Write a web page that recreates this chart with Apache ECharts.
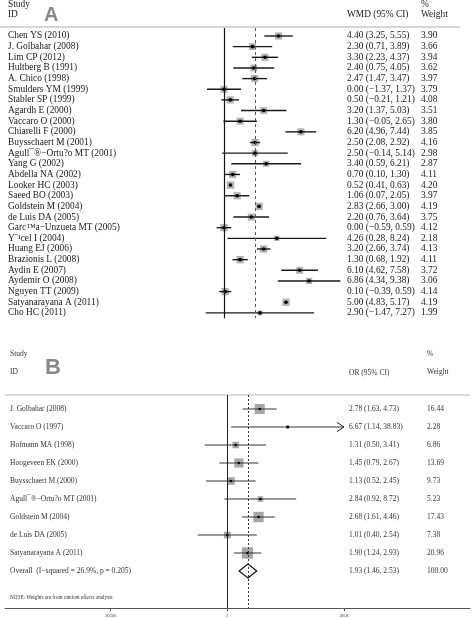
<!DOCTYPE html>
<html>
<head>
<meta charset="utf-8">
<script src="https://cdn.jsdelivr.net/npm/echarts@6/dist/echarts.min.js"></script>
<style>html,body{margin:0;padding:0;background:#fff}#c{width:472px;height:619px}</style>
</head>
<body>
<div id="c"></div>
<script>
// ---------- Panel A data (WMD) ----------
const namesA = ['Chen YS (2010)', 'J. Golbahar (2008)', 'Lim CP (2012)', 'Hultberg B (1991)', 'A. Chico (1998)',
  'Smulders YM (1999)', 'Stabler SP (1999)', 'Agardh E (2000)', 'Vaccaro O (2000)', 'Chiarelli F (2000)',
  'Buysschaert M (2001)', 'Agull¯®−Ortu?o MT (2001)', 'Yang G (2002)', 'Abdella NA (2002)', 'Looker HC (2003)',
  'Saeed BO (2003)', 'Goldstein M (2004)', 'de Luis DA (2005)', 'Garc™a−Unzueta MT (2005)', 'Y¨¹cel I (2004)',
  'Huang EJ (2006)', 'Brazionis L (2008)', 'Aydin E (2007)', 'Aydemir O (2008)', 'Nguyen TT (2009)',
  'Satyanarayana A (2011)', 'Cho HC (2011)'];
const wmdA  = [4.40, 2.30, 3.30, 2.40, 2.47, 0.00, 0.50, 3.20, 1.30, 6.20, 2.50, 2.50, 3.40, 0.70, 0.52, 1.06, 2.83, 2.20, 0.00, 4.26, 3.20, 1.30, 6.10, 6.86, 0.10, 5.00, 2.90];
const lowA  = [3.25, 0.71, 2.23, 0.75, 1.47, -1.37, -0.21, 1.37, -0.05, 4.96, 2.08, -0.14, 0.59, 0.10, 0.41, 0.07, 2.66, 0.76, -0.59, 0.28, 2.66, 0.68, 4.62, 4.34, -0.39, 4.83, -1.47];
const highA = [5.55, 3.89, 4.37, 4.05, 3.47, 1.37, 1.21, 5.03, 2.65, 7.44, 2.92, 5.14, 6.21, 1.30, 0.63, 2.05, 3.00, 3.64, 0.59, 8.24, 3.74, 1.92, 7.58, 9.38, 0.59, 5.17, 7.27];
const weightA = [3.90, 3.66, 3.94, 3.62, 3.97, 3.79, 4.08, 3.51, 3.80, 3.85, 4.16, 2.98, 2.87, 4.11, 4.20, 3.97, 4.19, 3.75, 4.12, 2.18, 4.13, 4.11, 3.72, 3.06, 4.14, 4.19, 1.99];
const overallA = 2.5;

// ---------- Panel B data (OR) ----------
const namesB = ['J. Golbahar (2008)', 'Vaccaro O (1997)', 'Hofmann MA (1998)', 'Hoogeveen EK (2000)', 'Buysschaert M (2000)',
  'Agull¯®−Ortu?o MT (2001)', 'Goldstein M (2004)', 'de Luis DA (2005)', 'Satyanarayana A (2011)'];
const orB   = [2.78, 6.67, 1.31, 1.45, 1.13, 2.84, 2.68, 1.01, 1.90];
const lowB  = [1.63, 1.14, 0.50, 0.79, 0.52, 0.92, 1.61, 0.40, 1.24];
const highB = [4.73, 38.83, 3.41, 2.67, 2.45, 8.72, 4.46, 2.54, 2.93];
const weightB = [16.44, 2.28, 6.86, 13.69, 9.73, 5.23, 17.43, 7.38, 20.96];
const overallLabelB = 'Overall  (I−squared = 26.9%, p = 0.205)';
const overallB = 1.93, overallLowB = 1.46, overallHighB = 2.53, overallWeightB = 100.00;
const tickValuesB = [0.0258, 1, 38.8];
const tickLabelsB = ['.0258', '1', '38.8'];

// ---------- helpers ----------
const fmt = v => v.toFixed(2).replace('-', '−');
const ciText = (e, l, h) => `${fmt(e)} (${fmt(l)}, ${fmt(h)})`;
const ciA = wmdA.map((v, i) => ciText(v, lowA[i], highA[i]));
const wA = weightA.map(w => w.toFixed(2));
const allNamesB = namesB.concat([overallLabelB]);
const ciB = orB.map((v, i) => ciText(v, lowB[i], highB[i])).concat([ciText(overallB, overallLowB, overallHighB)]);
const wB = weightB.map(w => w.toFixed(2)).concat([overallWeightB.toFixed(2)]);

const SERIF = "'Liberation Serif', 'DejaVu Serif', serif";
const SANS = "'Liberation Sans', Arial, sans-serif";
const FA = 9.4;

// layout constants
const rowA = 10.65, firstRowA = 36;
const rowB = 18, firstRowB = 409;
const logBaseB = 38.8;
const pxPerLogB = 117, oneXB = 227;
const bLeft = 5, bRight = 470;
const xMinB = Math.pow(logBaseB, (bLeft - oneXB) / pxPerLogB);
const xMaxB = Math.pow(logBaseB, (bRight - oneXB) / pxPerLogB);
const clipB = tickValuesB[tickValuesB.length - 1];

const grids = [], xAxes = [], yAxes = [];
function textColumn(left, top, height, labels, fontSize, color) {
  const gi = grids.length;
  grids.push({ left: left, top: top, width: 10, height: height });
  xAxes.push({ gridIndex: gi, type: 'value', show: false });
  yAxes.push({ gridIndex: gi, type: 'category', data: labels, inverse: true,
    axisLine: { show: false }, axisTick: { show: false }, splitLine: { show: false },
    axisLabel: { inside: true, interval: 0, margin: 0, fontSize: fontSize, color: color, fontFamily: SERIF } });
}

// grid 0: panel A plot
const aMin = -4, aMax = 10, aPx = 12.4, zeroXA = 224;
grids.push({ left: zeroXA + aMin * aPx, width: (aMax - aMin) * aPx, top: firstRowA - 0.75 * rowA, height: 27.25 * rowA });
xAxes.push({ gridIndex: 0, type: 'value', min: aMin, max: aMax, show: false });
yAxes.push({ gridIndex: 0, type: 'value', min: -0.75, max: 26.5, inverse: true, show: false });

// grid 1: panel B plot
grids.push({ left: bLeft, width: bRight - bLeft, top: 395, height: 213 });
xAxes.push({ gridIndex: 1, type: 'log', logBase: logBaseB, min: xMinB, max: xMaxB, position: 'bottom',
  axisLine: { show: true, onZero: false, lineStyle: { color: '#555', width: 1 } },
  axisTick: { show: true, customValues: tickValuesB, length: 3, lineStyle: { color: '#555' } },
  splitLine: { show: false },
  axisLabel: { customValues: tickValuesB, fontSize: 5, color: '#333', fontFamily: SERIF, margin: 5,
    formatter: v => { const i = tickValuesB.findIndex(t => Math.abs(Math.log(v / t)) < 1e-4); return i >= 0 ? tickLabelsB[i] : ''; } } });
yAxes.push({ gridIndex: 1, type: 'value', min: (395 - firstRowB) / rowB, max: (608 - firstRowB) / rowB, inverse: true, show: false });

// text columns
const topTA = firstRowA - rowA / 2, hTA = rowA * namesA.length;
textColumn(8, topTA, hTA, namesA, FA, '#1a1a1a');
textColumn(347, topTA, hTA, ciA, FA, '#1a1a1a');
textColumn(421, topTA, hTA, wA, FA, '#1a1a1a');
const topTB = firstRowB - rowB / 2, hTB = rowB * allNamesB.length;
textColumn(10, topTB, hTB, allNamesB, 7.5, '#333');
textColumn(349, topTB, hTB, ciB, 7.5, '#333');
textColumn(427, topTB, hTB, wB, 7.5, '#333');

const dataA = wmdA.map((v, i) => [v, i, lowA[i], highA[i], weightA[i]]);
const dataB = orB.map((v, i) => [v, i, lowB[i], highB[i], weightB[i]]);
const dataOverallB = [[overallB, namesB.length, overallLowB, overallHighB, overallWeightB]];

const option = {
  animation: false,
  backgroundColor: '#fff',
  grid: grids, xAxis: xAxes, yAxis: yAxes,
  graphic: [
    { type: 'line', shape: { x1: 0, y1: 27, x2: 460, y2: 27 }, style: { stroke: '#c9c9c9', lineWidth: 1.5 } },
    { type: 'line', shape: { x1: 5, y1: 395, x2: 470, y2: 395 }, style: { stroke: '#cfcfcf', lineWidth: 1.5 } },
    { type: 'text', x: 8, y: 5, style: { text: 'Study', fontSize: FA, fontFamily: SERIF, fill: '#1a1a1a', verticalAlign: 'middle' } },
    { type: 'text', x: 8, y: 15, style: { text: 'ID', fontSize: FA, fontFamily: SERIF, fill: '#1a1a1a', verticalAlign: 'middle' } },
    { type: 'text', x: 44, y: 15, style: { text: 'A', fontSize: 20, fontWeight: 'bold', fontFamily: SANS, fill: '#8a8a8a', verticalAlign: 'middle' } },
    { type: 'text', x: 347, y: 15, style: { text: 'WMD (95% CI)', fontSize: FA, fontFamily: SERIF, fill: '#1a1a1a', verticalAlign: 'middle' } },
    { type: 'text', x: 421, y: 5, style: { text: '%', fontSize: FA, fontFamily: SERIF, fill: '#1a1a1a', verticalAlign: 'middle' } },
    { type: 'text', x: 421, y: 15, style: { text: 'Weight', fontSize: FA, fontFamily: SERIF, fill: '#1a1a1a', verticalAlign: 'middle' } },
    { type: 'text', x: 10, y: 354, style: { text: 'Study', fontSize: 7.5, fontFamily: SERIF, fill: '#333', verticalAlign: 'middle' } },
    { type: 'text', x: 10, y: 372, style: { text: 'ID', fontSize: 7.5, fontFamily: SERIF, fill: '#333', verticalAlign: 'middle' } },
    { type: 'text', x: 45, y: 368, style: { text: 'B', fontSize: 22, fontWeight: 'bold', fontFamily: SANS, fill: '#8a8a8a', verticalAlign: 'middle' } },
    { type: 'text', x: 349, y: 373, style: { text: 'OR (95% CI)', fontSize: 7.5, fontFamily: SERIF, fill: '#333', verticalAlign: 'middle' } },
    { type: 'text', x: 427, y: 354, style: { text: '%', fontSize: 7.5, fontFamily: SERIF, fill: '#333', verticalAlign: 'middle' } },
    { type: 'text', x: 427, y: 372, style: { text: 'Weight', fontSize: 7.5, fontFamily: SERIF, fill: '#333', verticalAlign: 'middle' } },
    { type: 'text', x: 10, y: 598, style: { text: 'NOTE: Weights are from random effects analysis', fontSize: 5.2, fontFamily: SERIF, fill: '#333', verticalAlign: 'middle' } }
  ],
  series: [
    {
      type: 'custom', xAxisIndex: 0, yAxisIndex: 0, data: dataA,
      encode: { x: [0, 2, 3], y: 1 },
      renderItem: (params, api) => {
        const e = api.value(0), i = api.value(1), l = api.value(2), h = api.value(3), w = api.value(4);
        const pL = api.coord([l, i]), pH = api.coord([h, i]), pC = api.coord([e, i]);
        const s = 3.6 * Math.sqrt(w);
        return { type: 'group', children: [
          { type: 'rect', shape: { x: pC[0] - s / 2, y: pC[1] - s / 2, width: s, height: s }, style: { fill: '#b3b3b3' } },
          { type: 'line', shape: { x1: pL[0], y1: pL[1], x2: pH[0], y2: pH[1] }, style: { stroke: '#1a1a1a', lineWidth: 1.4 } },
          { type: 'circle', shape: { cx: pC[0], cy: pC[1], r: 1.8 }, style: { fill: '#000' } }
        ] };
      },
      markLine: {
        silent: true, symbol: 'none', label: { show: false }, animation: false,
        data: [
          { xAxis: 0, lineStyle: { color: '#111', width: 1.2, type: 'solid' } },
          { xAxis: overallA, lineStyle: { color: '#a33a3a', width: 1, type: [3, 3] } }
        ]
      }
    },
    {
      type: 'custom', xAxisIndex: 1, yAxisIndex: 1, data: dataB,
      encode: { x: [0, 2, 3], y: 1 },
      renderItem: (params, api) => {
        const e = api.value(0), i = api.value(1), l = api.value(2), h = api.value(3), w = api.value(4);
        const clipped = h > clipB;
        const pL = api.coord([l, i]), pH = api.coord([clipped ? clipB : h, i]), pC = api.coord([e, i]);
        const s = 2.47 * Math.sqrt(w);
        const children = [
          { type: 'rect', shape: { x: pC[0] - s / 2, y: pC[1] - s / 2, width: s, height: s }, style: { fill: '#a6a6a6' } },
          { type: 'line', shape: { x1: pL[0], y1: pL[1], x2: pH[0], y2: pH[1] }, style: { stroke: '#333', lineWidth: 1 } },
          { type: 'circle', shape: { cx: pC[0], cy: pC[1], r: 1.3 }, style: { fill: '#000' } }
        ];
        if (clipped) {
          children.push({ type: 'polyline', shape: { points: [[pH[0] - 7, pH[1] - 4.7], [pH[0], pH[1]], [pH[0] - 7, pH[1] + 4.7]] },
            style: { stroke: '#222', lineWidth: 1, fill: null } });
        }
        return { type: 'group', children: children };
      },
      markLine: {
        silent: true, symbol: 'none', label: { show: false }, animation: false,
        data: [
          { xAxis: 1, lineStyle: { color: '#222', width: 1, type: 'solid' } },
          { xAxis: overallB, lineStyle: { color: '#333', width: 1, type: [2, 2] } }
        ]
      }
    },
    {
      type: 'custom', xAxisIndex: 1, yAxisIndex: 1, data: dataOverallB,
      encode: { x: [0, 2, 3], y: 1 },
      renderItem: (params, api) => {
        const e = api.value(0), i = api.value(1), l = api.value(2), h = api.value(3);
        const pL = api.coord([l, i]), pH = api.coord([h, i]), pC = api.coord([e, i]);
        return { type: 'polygon', shape: { points: [[pL[0], pC[1]], [pC[0], pC[1] - 7], [pH[0], pC[1]], [pC[0], pC[1] + 7]] },
          style: { fill: '#fff', stroke: '#111', lineWidth: 1.2 } };
      }
    }
  ]
};
const chart = echarts.init(document.getElementById('c'), null, { renderer: 'canvas' });
chart.setOption(option);
</script>
</body>
</html>
